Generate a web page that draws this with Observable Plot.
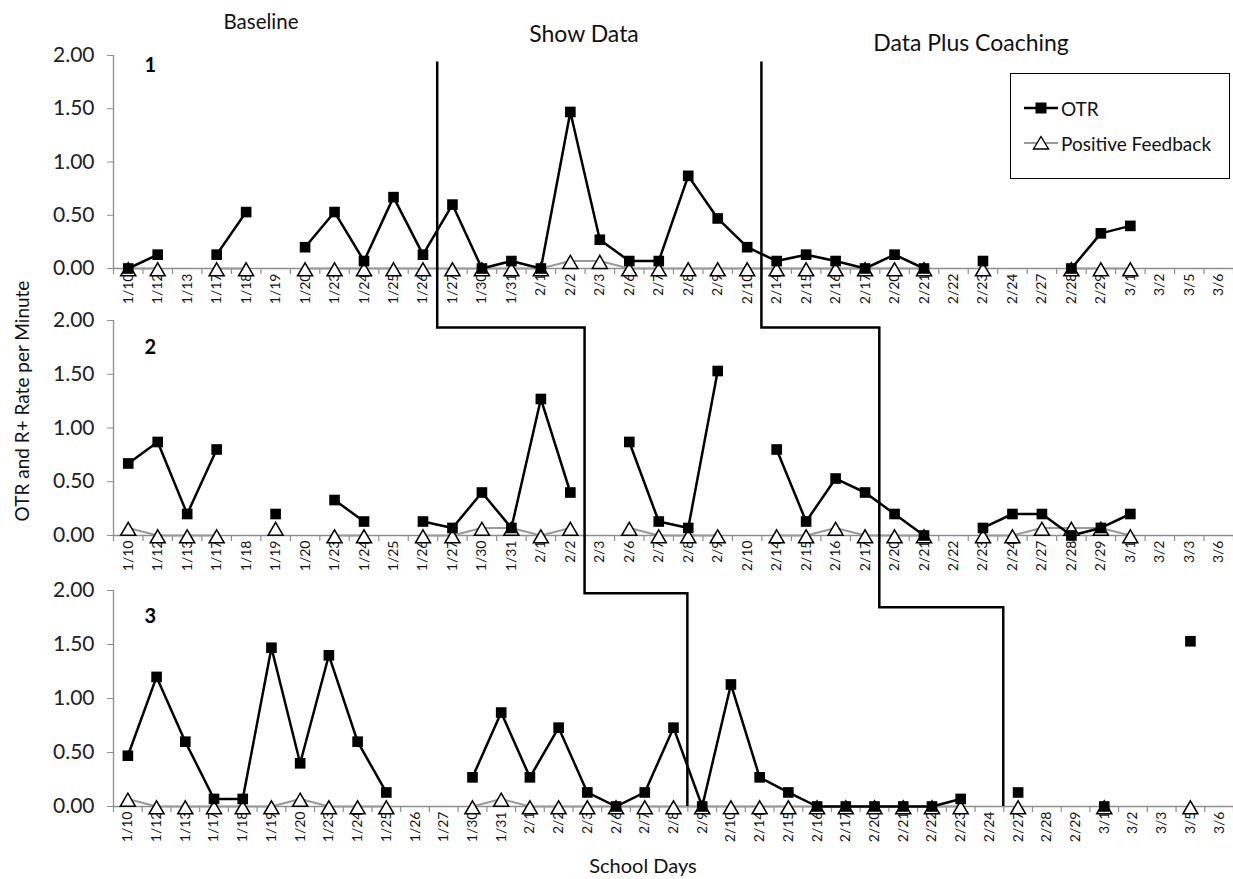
<!DOCTYPE html>
<html>
<head>
<meta charset="utf-8">
<script src="https://cdn.jsdelivr.net/npm/d3@7"></script>
<script src="https://cdn.jsdelivr.net/npm/@observablehq/plot@0.6"></script>
<style>
  body { margin: 0; background: #fff; font-family: Lato, "Open Sans", sans-serif; color: #111; }
  #wrap { position: relative; width: 1233px; height: 879px; overflow: hidden; }
  #wrap > svg, #wrap > figure { display: block; margin: 0; }
  .lab { position: absolute; white-space: nowrap; line-height: 1; transform: translate(-50%, -50%); }
  #legend { position: absolute; left: 1010px; top: 73px; width: 218px; height: 104px; border: 1.5px solid #000; background: #fff; }
  #legend .row { position: absolute; left: 12px; height: 20px; display: flex; align-items: center; font-size: 19px; }
  #legend svg { margin-right: 2px; }
</style>
</head>
<body>
<div id="wrap"></div>
<script>
// ---------------- data ----------------
const dates1 = ["1/10","1/12","1/13","1/17","1/18","1/19","1/20","1/23","1/24","1/25","1/26","1/27","1/30","1/31","2/1","2/2","2/3","2/6","2/7","2/8","2/9","2/10","2/14","2/15","2/16","2/17","2/20","2/21","2/22","2/23","2/24","2/27","2/28","2/29","3/1","3/2","3/5","3/6"];
const otr1 = [0.00,0.13,null,0.13,0.53,null,0.20,0.53,0.07,0.67,0.13,0.60,0.00,0.07,0.00,1.47,0.27,0.07,0.07,0.87,0.47,0.20,0.07,0.13,0.07,0.00,0.13,0.00,null,0.07,null,null,0.00,0.33,0.40,null,null,null];
const pf1  = [0,0,null,0,0,null,0,0,0,0,0,0,0,0,0,0.07,0.07,0,0,0,0,0,0,0,0,0,0,0,null,0,null,null,0,0,0,null,null,null];

const dates2 = ["1/10","1/12","1/13","1/17","1/18","1/19","1/20","1/23","1/24","1/25","1/26","1/27","1/30","1/31","2/1","2/2","2/3","2/6","2/7","2/8","2/9","2/10","2/14","2/15","2/16","2/17","2/20","2/21","2/22","2/23","2/24","2/27","2/28","2/29","3/1","3/2","3/3","3/6"];
const otr2 = [0.67,0.87,0.20,0.80,null,0.20,null,0.33,0.13,null,0.13,0.07,0.40,0.07,1.27,0.40,null,0.87,0.13,0.07,1.53,null,0.80,0.13,0.53,0.40,0.20,0.00,null,0.07,0.20,0.20,0.00,0.07,0.20,null,null,null];
const pf2  = [0.07,0,0,0,null,0.07,null,0,0,null,0,0,0.07,0.07,0,0.07,null,0.07,0,0,0,null,0,0,0.07,0,0,0,null,0,0,0.07,0.07,0.07,0,null,null,null];

const dates3 = ["1/10","1/12","1/13","1/17","1/18","1/19","1/20","1/23","1/24","1/25","1/26","1/27","1/30","1/31","2/1","2/2","2/3","2/6","2/7","2/8","2/9","2/10","2/14","2/15","2/16","2/17","2/20","2/21","2/22","2/23","2/24","2/27","2/28","2/29","3/1","3/2","3/3","3/5","3/6"];
const otr3 = [0.47,1.20,0.60,0.07,0.07,1.47,0.40,1.40,0.60,0.13,null,null,0.27,0.87,0.27,0.73,0.13,0.00,0.13,0.73,0.00,1.13,0.27,0.13,0.00,0.00,0.00,0.00,0.00,0.07,null,0.13,null,null,0.00,null,null,1.53,null];
const pf3  = [0.07,0,0,0,0,0,0.07,0,0,0,null,null,0,0.07,0,0,0,0,0,0,0,0,0,0,0,0,0,0,0,0,null,0,null,null,0,null,null,0,null];

const yTicks = [0, 0.5, 1, 1.5, 2];
const panelLabels = ["1", "2", "3"];
const phaseTitles = ["Baseline", "Show Data", "Data Plus Coaching"];
// phase changes: [last session of old phase, first session of new phase] per panel
const change1 = [["1/26","1/27"], ["2/2","2/3"], ["2/8","2/9"]];
const change2 = [["2/10","2/14"], ["2/17","2/20"], ["2/24","2/27"]];
const seriesNames = ["OTR", "Positive Feedback"];
const yLabel = "OTR and R+ Rate per Minute";
const xLabel = "School Days";

// ---------------- drawing ----------------
const GRAY = "#8e8e8e";
function panel(dates, otr, pf, label, o) {
  const n = dates.length;
  const data = dates.map((d, i) => ({i, date: d, otr: otr[i], pf: pf[i]}));
  return Plot.plot({
    width: 1233, height: o.height,
    marginLeft: 113, marginRight: 0, marginTop: o.mt, marginBottom: o.mb,
    x: {domain: [-0.5, n - 0.5], axis: null},
    y: {domain: [0, 2], axis: null},
    style: {fontFamily: "Lato, sans-serif", background: "white", overflow: "visible", color: "#111"},
    marks: [
      Plot.ruleY([0], {stroke: GRAY, strokeWidth: 1.3}),
      Plot.ruleX([-0.5], {y1: 0, y2: 2, stroke: GRAY, strokeWidth: 1.3}),
      Plot.axisY(yTicks, {label: null, tickFormat: d3.format(".2f"), tickSize: 6, tickPadding: 13, stroke: GRAY, fill: "#222", fontSize: 21}),
      Plot.axisX(d3.range(n + 1).map(k => k - 0.5), {label: null, tickFormat: () => "", tickSize: 6, stroke: GRAY, strokeWidth: 1.2}),
      Plot.axisX(d3.range(n), {label: null, tickFormat: k => dates[k], tickSize: 0, tickPadding: 5, tickRotate: -90, fill: "#111", fontSize: 14}),
      Plot.line(data, {x: "i", y: "pf", stroke: "#999", strokeWidth: 2}),
      Plot.line(data, {x: "i", y: "otr", stroke: "#000", strokeWidth: 2.5}),
      Plot.dot(data, {x: "i", y: "pf", symbol: "triangle", r: 5.6, fill: "white", stroke: "#000", strokeWidth: 1.5, dy: 3}),
      Plot.dot(data, {x: "i", y: "otr", symbol: "square", r: 6, fill: "#000", stroke: "none"}),
      Plot.text([label], {frameAnchor: "top-left", dx: 31, dy: o.labelDy, fontWeight: "bold", fontSize: 20, fill: "#000"})
    ]
  });
}

const specs = [
  {height: 305, mt: 55, mb: 37, labelDy: 2},
  {height: 273, mt: 15, mb: 43, labelDy: 19},
  {height: 301, mt: 12, mb: 73, labelDy: 18}
];
const wrap = document.getElementById("wrap");
const plots = [
  panel(dates1, otr1, pf1, panelLabels[0], specs[0]),
  panel(dates2, otr2, pf2, panelLabels[1], specs[1]),
  panel(dates3, otr3, pf3, panelLabels[2], specs[2])
];
plots.forEach(p => wrap.appendChild(p));
const tops = [0, specs[0].height, specs[0].height + specs[1].height];
const allDates = [dates1, dates2, dates3];

function X(k, pair) {
  const sx = plots[k].scale("x");
  const a = allDates[k].indexOf(pair[0]), b = allDates[k].indexOf(pair[1]);
  return (sx.apply(a) + sx.apply(b)) / 2;
}
function Y(k, v) { return plots[k].scale("y").apply(v) + tops[k]; }

const ov = d3.select(wrap).append("svg")
  .attr("width", 1233).attr("height", 879)
  .style("position", "absolute").style("left", 0).style("top", 0).style("pointer-events", "none");

function stepPath(ch, lvl1, lvl2) {
  const p = d3.path();
  p.moveTo(X(0, ch[0]), Y(0, 1.94));
  p.lineTo(X(0, ch[0]), Y(1, lvl1));
  p.lineTo(X(1, ch[1]), Y(1, lvl1));
  p.lineTo(X(1, ch[1]), Y(2, lvl2));
  p.lineTo(X(2, ch[2]), Y(2, lvl2));
  p.lineTo(X(2, ch[2]), Y(2, 0));
  return p.toString();
}
ov.append("path").attr("d", stepPath(change1, 1.93, 1.97)).attr("fill", "none").attr("stroke", "#000").attr("stroke-width", 2.5);
ov.append("path").attr("d", stepPath(change2, 1.93, 1.84)).attr("fill", "none").attr("stroke", "#000").attr("stroke-width", 2.5);

// text labels
function addLab(text, x, y, size, extra) {
  const d = document.createElement("div");
  d.className = "lab";
  d.textContent = text;
  d.style.left = x + "px"; d.style.top = y + "px"; d.style.fontSize = size + "px";
  if (extra) d.style.transform = extra;
  wrap.appendChild(d);
}
addLab(phaseTitles[0], 261, 21, 20.5);
addLab(phaseTitles[1], 584, 33, 23);
addLab(phaseTitles[2], 971, 42, 23);
addLab(yLabel, 21, 401, 19, "translate(-50%,-50%) rotate(-90deg)");
addLab(xLabel, 643, 865, 20);

// legend
const lg = document.createElement("div");
lg.id = "legend";
lg.innerHTML = `
  <div class="row" style="top:24px"><svg width="36" height="16"><line x1="1" y1="8" x2="35" y2="8" stroke="#000" stroke-width="2.5"/><rect x="12.5" y="2.5" width="11" height="11" fill="#000"/></svg><span>${seriesNames[0]}</span></div>
  <div class="row" style="top:59px"><svg width="36" height="16"><line x1="1" y1="8" x2="35" y2="8" stroke="#999" stroke-width="2"/><path d="M18,1.5 L25.5,14 L10.5,14 Z" fill="#fff" stroke="#000" stroke-width="1.4"/></svg><span>${seriesNames[1]}</span></div>`;
wrap.appendChild(lg);
</script>
</body>
</html>
